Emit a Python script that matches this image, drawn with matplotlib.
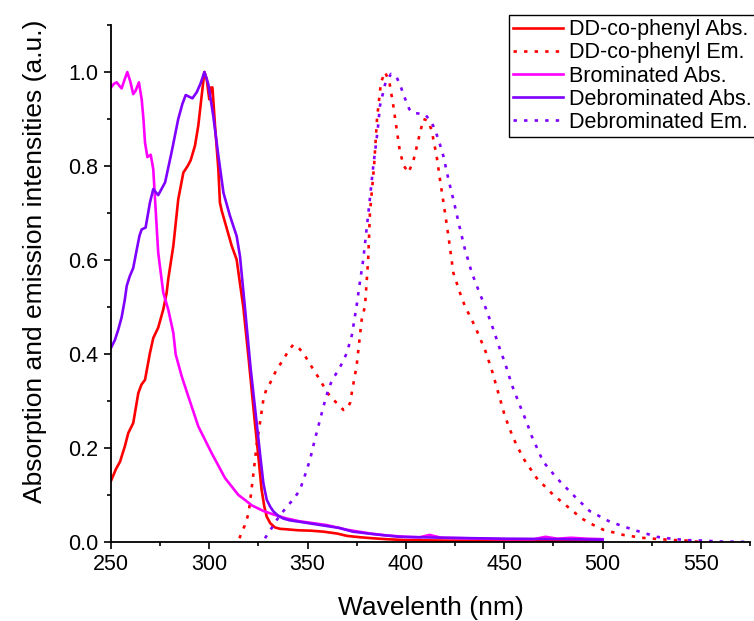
import matplotlib
matplotlib.use('Agg')
import matplotlib.pyplot as plt
from matplotlib.ticker import MultipleLocator

plt.rcParams['font.family'] = ['Liberation Sans', 'DejaVu Sans']

# DD-co-phenyl absorption
ddp_abs_wl = [250, 252.5, 254.6, 257, 258.8, 261.3, 263.9, 265.5, 267.3, 269.8, 271.5, 274, 276.6,
              278.3, 279.1, 281.7, 284.2, 286.8, 289, 290.5, 292.7, 294.4, 296.1, 297.5, 298.7,
              299.5, 300, 300.8, 301.6, 302.9, 304.6, 305.4, 306.3, 308, 311.4, 313.9, 315.6,
              317.3, 320, 323.2, 325, 326.6, 328, 329.2, 331, 333.4, 336, 339.4, 345, 352, 358,
              365, 370, 377, 383, 390, 400, 420, 450, 480, 500]
ddp_abs = [0.13, 0.155, 0.171, 0.203, 0.232, 0.253, 0.317, 0.335, 0.345, 0.402, 0.434, 0.456, 0.495,
           0.53, 0.559, 0.63, 0.729, 0.786, 0.80, 0.812, 0.843, 0.886, 0.949, 1.0, 0.985,
           0.957, 0.942, 0.967, 0.967, 0.886, 0.793, 0.722, 0.705, 0.68, 0.63, 0.601, 0.55,
           0.5, 0.39, 0.253, 0.18, 0.111, 0.075, 0.054, 0.04, 0.031, 0.028, 0.027, 0.025, 0.024, 0.022,
           0.018, 0.013, 0.01, 0.008, 0.006, 0.004, 0.003, 0.002, 0.002, 0.002]

# DD-co-phenyl emission
ddp_em_wl = [315.3, 318, 320, 322, 324.2, 326, 327.5, 329, 330.9, 334, 337.6, 340, 342.7, 345, 347.8,
             351, 354, 356.3, 359, 361.4, 365, 368.2, 370, 371.6, 373, 374.9, 377.5, 379.2, 380.8,
             381.7, 383.8, 385.3, 387.3, 389.4, 391.6, 393.6, 395.3, 397, 399, 401.3, 403.8,
             406.4, 408.9, 411.4, 413.1, 415.6, 417.3, 419.9, 421.6, 424.1, 427.5, 430, 435.1,
             440.2, 443.6, 447, 450.4, 454.6, 459.7, 466.5, 475, 484.3, 489.4, 495, 500.4,
             510.6, 520, 529, 537, 542.8, 549.6]
ddp_em = [0.008, 0.035, 0.061, 0.13, 0.21, 0.26, 0.303, 0.325, 0.338, 0.365, 0.388, 0.405, 0.42, 0.415,
          0.402, 0.38, 0.36, 0.345, 0.325, 0.31, 0.295, 0.281, 0.283, 0.296, 0.33, 0.374, 0.473, 0.502,
          0.601, 0.70, 0.80, 0.90, 0.978, 1.0, 0.978, 0.928, 0.878, 0.829, 0.80, 0.786, 0.811,
          0.857, 0.90, 0.896, 0.875, 0.822, 0.772, 0.70, 0.651, 0.573, 0.530, 0.502, 0.459,
          0.409, 0.367, 0.317, 0.267, 0.221, 0.178, 0.136, 0.10, 0.068, 0.05, 0.037, 0.026,
          0.015, 0.009, 0.006, 0.004, 0.003, 0.0]

# Brominated absorption
brom_abs_wl = [250, 251.5, 252.9, 254, 255.4, 257, 258.3, 259.8, 261.3, 262.5, 264.2, 265.6, 266.5,
               267.3, 268.5, 270.2, 271.5, 272.4, 274, 276.6, 279.1, 281.7, 282.9, 286, 289.3,
               294.4, 301.2, 308, 314.8, 318, 321.6, 327.5, 333, 339.4, 346, 353, 359.7, 366,
               370, 376, 382, 390, 400, 407, 412, 418, 430, 450, 465, 471, 477, 484, 492, 500]
brom_abs = [0.967, 0.975, 0.978, 0.972, 0.965, 0.985, 1.0, 0.98, 0.953, 0.96, 0.978, 0.942, 0.9,
            0.85, 0.819, 0.824, 0.793, 0.729, 0.616, 0.53, 0.495, 0.445, 0.399, 0.352, 0.31,
            0.246, 0.189, 0.136, 0.10, 0.09, 0.078, 0.066, 0.058, 0.05, 0.044, 0.04, 0.036, 0.03,
            0.026, 0.022, 0.018, 0.014, 0.011, 0.010, 0.015, 0.009, 0.008, 0.006, 0.006, 0.011,
            0.007, 0.009, 0.007, 0.006]

# Debrominated absorption
deb_abs_wl = [250, 252, 253.7, 255.4, 257, 258, 259.5, 261.3, 263, 264.5, 265.6, 267.6, 269.8, 271.5,
              274, 277.5, 280.8, 284.2, 286.3, 288, 291.4, 293.6, 295.5, 297.5, 299.5, 302, 304.6,
              307.2, 310.5, 313.9, 315.6, 318.2, 321, 324.1, 326, 327.5, 329.2, 331, 332.6, 335,
              337.6, 341, 346, 352, 359.7, 366, 373, 385, 397, 420, 450, 480, 500]
deb_abs = [0.413, 0.43, 0.452, 0.478, 0.515, 0.545, 0.565, 0.583, 0.62, 0.652, 0.665, 0.669, 0.722,
           0.751, 0.738, 0.765, 0.829, 0.90, 0.932, 0.951, 0.944, 0.957, 0.975, 1.0, 0.974, 0.907,
           0.822, 0.743, 0.694, 0.651, 0.608, 0.495, 0.37, 0.253, 0.18, 0.125, 0.09, 0.075, 0.065,
           0.056, 0.05, 0.046, 0.043, 0.039, 0.034, 0.03, 0.022, 0.016, 0.011, 0.009, 0.007,
           0.006, 0.005]

# Debrominated emission
deb_em_wl = [328.3, 331, 334.3, 337, 339.4, 343, 346.1, 348.5, 351.2, 353.5, 356.3, 358.5, 360.5,
             362.5, 364.8, 367.5, 369.9, 372.5, 374.9, 376.5, 378.3, 380.9, 383.4, 385.6, 386.8,
             389.4, 392.4, 395.3, 397.5, 399.5, 401.7, 403.5, 405.8, 409.7, 413.1, 415.3, 417.3,
             419, 421.6, 424.5, 427.2, 430, 433.5, 437.7, 440.2, 444.5, 447.9, 450.4, 453.8, 458,
             461.4, 464, 469.8, 476.7, 485.1, 493.4, 503.8, 515.7, 527.6, 535, 542.8, 551, 560, 575]
deb_em = [0.008, 0.025, 0.047, 0.062, 0.075, 0.092, 0.111, 0.14, 0.175, 0.215, 0.26, 0.295, 0.324,
          0.345, 0.36, 0.38, 0.402, 0.44, 0.502, 0.55, 0.601, 0.70, 0.80, 0.875, 0.928, 0.974,
          0.996, 0.989, 0.967, 0.944, 0.921, 0.913, 0.912, 0.910, 0.893, 0.871, 0.846, 0.822,
          0.772, 0.722, 0.672, 0.623, 0.573, 0.527, 0.502, 0.452, 0.409, 0.381, 0.335, 0.29,
          0.255, 0.225, 0.171, 0.136, 0.10, 0.066, 0.043, 0.026, 0.011, 0.007, 0.004, 0.003,
          0.001, 0.0]

RED = '#FF0000'
MAGENTA = '#FF00FF'
VIOLET = '#8000FF'
LW = 1.9
dots = (0, (1.3, 2.7))

fig = plt.figure(figsize=(7.54, 6.21), dpi=100)
ax = fig.add_axes([111 / 754, 79 / 621, 639 / 754, 517 / 621])

ax.plot(ddp_abs_wl, ddp_abs, color=RED, lw=LW, label='DD-co-phenyl Abs.')
ax.plot(ddp_em_wl, ddp_em, color=RED, lw=LW, ls=dots, label='DD-co-phenyl Em.')
ax.plot(brom_abs_wl, brom_abs, color=MAGENTA, lw=LW, label='Brominated Abs.')
ax.plot(deb_abs_wl, deb_abs, color=VIOLET, lw=LW, label='Debrominated Abs.')
ax.plot(deb_em_wl, deb_em, color=VIOLET, lw=LW, ls=dots, label='Debrominated Em.')

ax.set_xlim(250, 575)
ax.set_ylim(0, 1.1)
ax.xaxis.set_major_locator(MultipleLocator(50))
ax.xaxis.set_minor_locator(MultipleLocator(25))
ax.yaxis.set_major_locator(MultipleLocator(0.2))
ax.yaxis.set_minor_locator(MultipleLocator(0.1))
ax.yaxis.set_major_formatter(matplotlib.ticker.FormatStrFormatter('%.1f'))

for s in ['top', 'right']:
    ax.spines[s].set_visible(False)
for s in ['left', 'bottom']:
    ax.spines[s].set_linewidth(1.3)

ax.tick_params(which='major', direction='out', length=5, width=1.2, labelsize=15.5, pad=4)
ax.tick_params(which='minor', direction='out', length=3, width=1.2)

ax.set_xlabel('Wavelenth (nm)', fontsize=19, va='top')
ax.xaxis.set_label_coords(0.5, -0.104)
ax.set_ylabel('Absorption and emission intensities (a.u.)', fontsize=19)
ax.yaxis.set_label_coords(-0.1, 0.543)

leg = ax.legend(loc='upper left', bbox_to_anchor=(509 / 754, 1 - 15 / 621),
                bbox_transform=fig.transFigure, fontsize=15.5, frameon=True, fancybox=False,
                edgecolor='black', framealpha=1, borderpad=0.2, labelspacing=0.1,
                handlelength=2.3, handletextpad=0.3, borderaxespad=0)
leg.get_frame().set_linewidth(1.0)

fig.savefig('out.png', dpi=100)
